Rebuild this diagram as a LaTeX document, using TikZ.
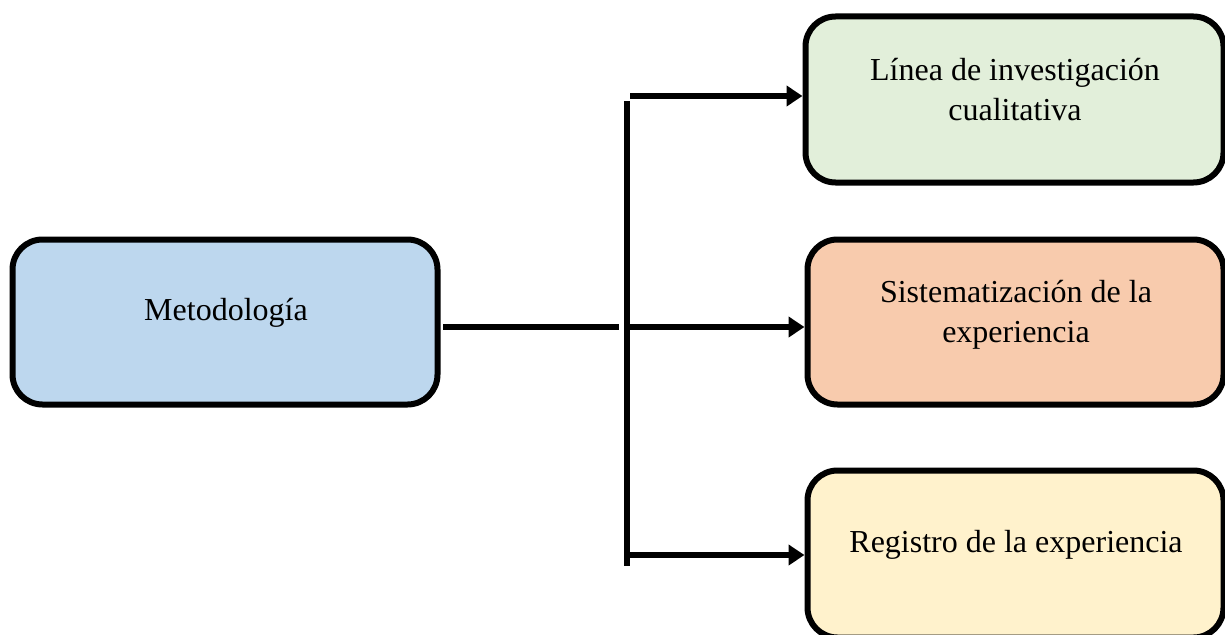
\documentclass[tikz,border=0pt]{standalone}
\usepackage{fontspec}
\setmainfont{Liberation Serif}
\usetikzlibrary{arrows.meta}
\definecolor{cblue}{HTML}{BDD7EE}
\definecolor{cgreen}{HTML}{E2EFDA}
\definecolor{corange}{HTML}{F8CBAD}
\definecolor{cyellow}{HTML}{FFF2CC}
\begin{document}
\begin{tikzpicture}[x=1pt,y=-1pt,
  box/.style={draw=black,line width=6pt,rounded corners=30pt,inner sep=0pt},
  txt/.style={font=\fontsize{32}{40}\selectfont,align=center,inner sep=0pt},
  conn/.style={line width=6pt},
  arr/.style={line width=6pt,-{Triangle[length=16pt,width=20pt]}}]
\useasboundingbox (0,0) rectangle (1225,634);
\clip (0,0) rectangle (1225,634);
\node[box,fill=cblue,minimum width=425pt,minimum height=165pt] (met) at (225,322) {};
\node[box,fill=cgreen,minimum width=418pt,minimum height=166pt] (top) at (1014.5,99.5) {};
\node[box,fill=corange,minimum width=416pt,minimum height=165pt] (mid) at (1015.5,322) {};
\node[box,fill=cyellow,minimum width=416pt,minimum height=167pt] (bot) at (1015.5,554) {};
\node[txt] (metT) at (226,313) {Metodología};
\node[txt] (topT) at (1015,90) {Línea de investigación\\cualitativa};
\node[txt] (midT) at (1016,315) {Sistematización de la\\experiencia};
\node[txt] (botT) at (1016,545) {Registro de la experiencia};
\coordinate (ms) at (443,327);
\coordinate (me) at (619,327);
\coordinate (vt) at (627,101);
\coordinate (vb) at (627,566);
\coordinate (ht) at (630,96);
\coordinate (hm) at (627,327);
\coordinate (hb) at (627,555);
\draw[conn] (ms) -- (me);
\draw[conn] (vt) -- (vb);
\draw[arr] (ht) -- (top.west |- ht);
\draw[arr] (hm) -- (mid.west |- hm);
\draw[arr] (hb) -- (bot.west |- hb);
\end{tikzpicture}
\end{document}
